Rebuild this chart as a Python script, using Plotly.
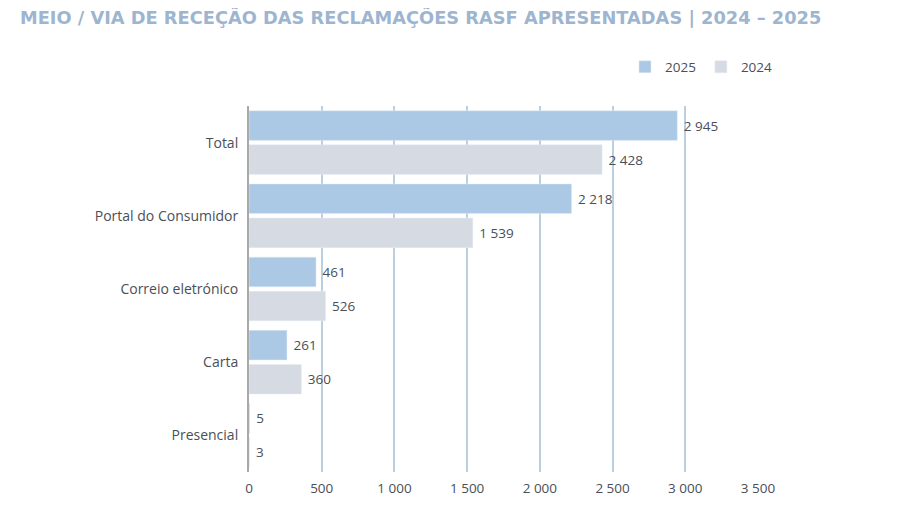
import plotly.graph_objects as go

categories = ["Total", "Portal do Consumidor", "Correio eletrónico", "Carta", "Presencial"]
values_2025 = [2945, 2218, 461, 261, 5]
values_2024 = [2428, 1539, 526, 360, 3]
tick_vals = [0, 500, 1000, 1500, 2000, 2500, 3000, 3500]
tick_text = ["0", "500", "1 000", "1 500", "2 000", "2 500", "3 000", "3 500"]

def fmt(v):
    return f"{v:,}".replace(",", " ")

FONT = "Open Sans"
TXT = "#4a4f57"
W, H = 884, 509

fig = go.Figure()
fig.add_trace(go.Bar(
    y=categories, x=values_2025, name="2025", orientation="h",
    marker=dict(color="#abc9e4"),
    text=[" " + fmt(v) for v in values_2025], textposition="outside",
    textfont=dict(color=TXT, size=13.5, family=FONT), cliponaxis=False,
))
fig.add_trace(go.Bar(
    y=categories, x=values_2024, name="2024", orientation="h",
    marker=dict(color="#d6dae3"),
    text=[" " + fmt(v) for v in values_2024], textposition="outside",
    textfont=dict(color=TXT, size=13.5, family=FONT), cliponaxis=False,
))

fig.update_layout(
    width=W, height=H,
    margin=dict(l=241, r=134, t=98, b=45, autoexpand=False),
    paper_bgcolor="white", plot_bgcolor="white",
    barmode="group", bargap=0.07, bargroupgap=0.13,
    font=dict(family=FONT, color=TXT, size=13),
    title=dict(
        text="<b>MEIO / VIA DE RECEÇÃO DAS RECLAMAÇÕES RASF APRESENTADAS | 2024 – 2025</b>",
        x=12 / W, xanchor="left", xref="container",
        y=1 - 10 / H, yanchor="middle", yref="container",
        font=dict(family="DejaVu Sans", size=17.8, color="#9db5cf"),
    ),
    legend=dict(
        orientation="h", x=617 / W, y=1 - 59 / H, xanchor="left", yanchor="middle",
        xref="container", yref="container",
        font=dict(size=13.5, color=TXT, family=FONT),
        traceorder="normal",
    ),
    xaxis=dict(
        range=[0, 3500], tickvals=tick_vals, ticktext=tick_text,
        showgrid=True, gridcolor="#bccfe1", gridwidth=1.5,
        zeroline=False, showline=False, ticks="", automargin=False,
        ticklabelstandoff=6,
        tickfont=dict(size=13.5, color=TXT, family=FONT),
    ),
    yaxis=dict(
        autorange="reversed", showgrid=False, ticks="", ticklabelstandoff=6,
        showline=True, linecolor="#a9a9a9", linewidth=2, automargin=False,
        tickfont=dict(size=14, color=TXT, family=FONT),
    ),
)

fig.write_html("out.html")
